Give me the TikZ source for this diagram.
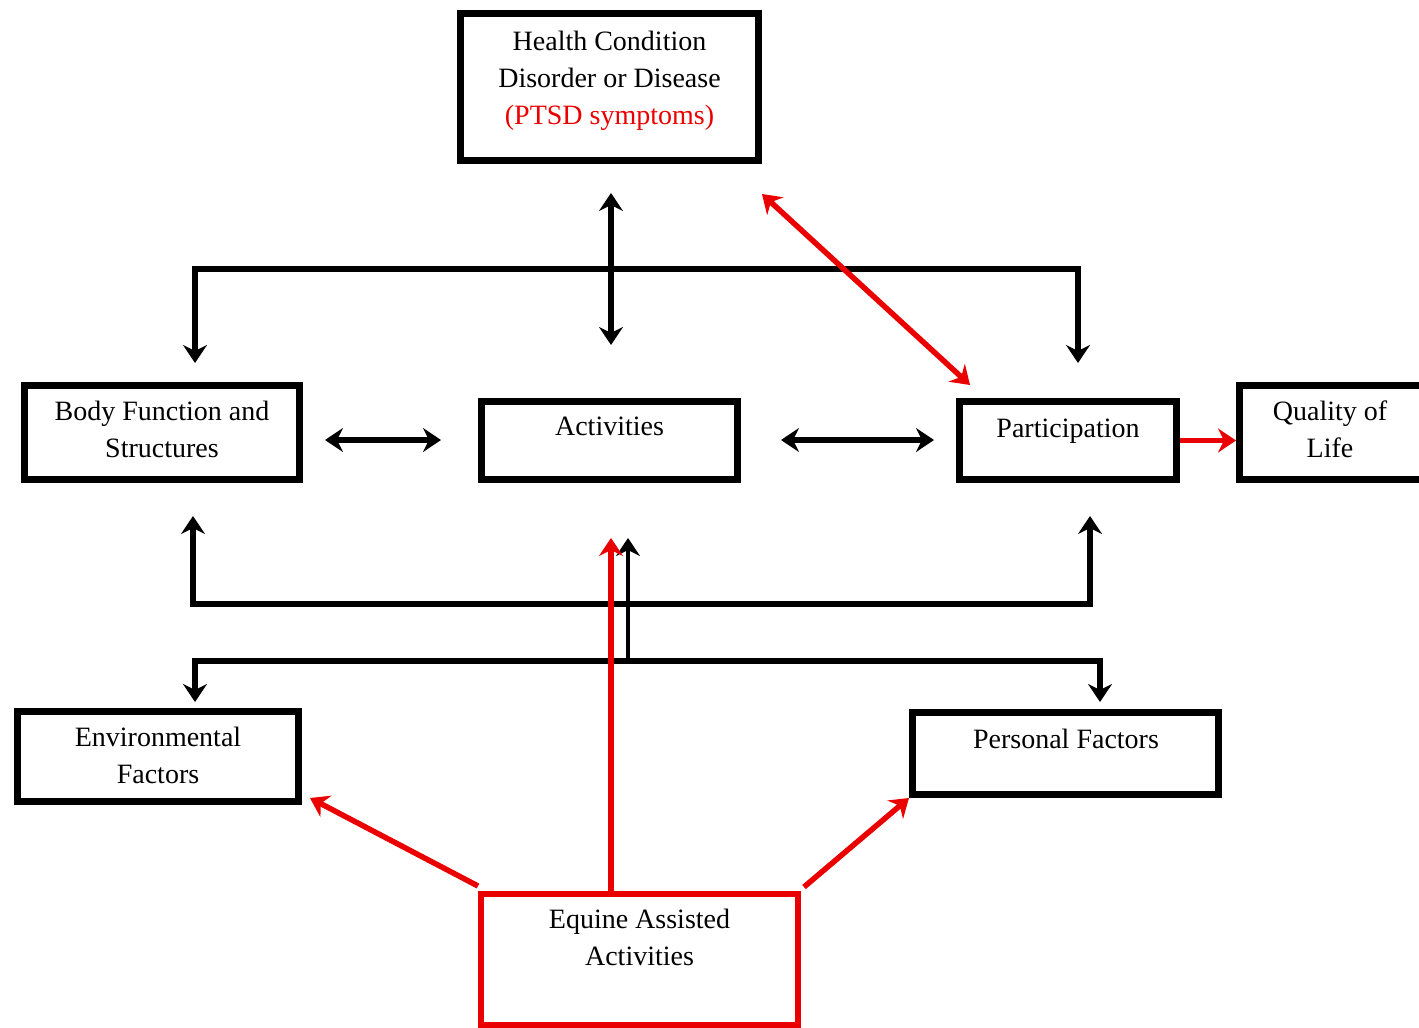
\documentclass[tikz,border=0pt]{standalone}
\usepackage{fontspec}
\setmainfont{Liberation Serif}
\usetikzlibrary{arrows.meta}
\definecolor{ared}{RGB}{235,0,0}
\tikzset{
  box/.style={draw=black, line width=7pt, fill=white, inner sep=0pt},
  rbox/.style={draw=ared, line width=6pt, fill=white, inner sep=0pt},
  txt/.style={align=center, anchor=north, inner sep=0pt, font=\fontsize{28}{37}\selectfont},
  tip/.tip={Stealth[length=18pt,width=24pt,inset=6pt]},
  blk/.style={draw=black, line width=6pt, line join=miter},
  red/.style={draw=ared, line width=5.5pt, line join=miter},
}
\begin{document}
\begin{tikzpicture}[x=1pt,y=-1pt]
\useasboundingbox (0,0) rectangle (1419,1028);
\fill[white] (0,0) rectangle (1419,1028);
% boxes
\node[box, minimum width=298pt, minimum height=147pt] (hc) at (609.5,87) {};
\node[box, minimum width=275pt, minimum height=94pt] (bf) at (162,432.5) {};
\node[box, minimum width=256pt, minimum height=78pt] (ac) at (609.5,440.5) {};
\node[box, minimum width=217pt, minimum height=78pt] (pa) at (1068,440.5) {};
\node[box, minimum width=200pt, minimum height=94pt] (ql) at (1339.5,432.5) {};
\node[box, minimum width=281pt, minimum height=90pt] (ef) at (158,756.5) {};
\node[box, minimum width=306pt, minimum height=82pt] (pf) at (1065.5,753.5) {};
\node[rbox, minimum width=317pt, minimum height=131pt] (ea) at (639.5,959.5) {};
% texts
\node[txt] (hct) at (609.5,31) {Health Condition\\Disorder or Disease\\\textcolor{ared}{(PTSD symptoms)}};
\node[txt] (bft) at (162,401) {Body Function and\\Structures};
\node[txt] (act) at (609.5,417) {Activities};
\node[txt] (pat) at (1068,419) {Participation};
\node[txt] (qlt) at (1330,401) {Quality of\\Life};
\node[txt] (eft) at (158,727) {Environmental\\Factors};
\node[txt] (pft) at (1066,729) {Personal Factors};
\node[txt] (eat) at (639.5,909) {Equine Assisted\\Activities};
% coordinates
\coordinate (va) at (611,193);
\coordinate (vb) at (611,345);
\coordinate (ta) at (195,363);
\coordinate (t1) at (195,269);
\coordinate (t2) at (1078,269);
\coordinate (tb) at (1078,363);
\coordinate (ba) at (193,516);
\coordinate (b1) at (193,604);
\coordinate (b2) at (1090,604);
\coordinate (bb) at (1090,516);
\coordinate (ma) at (628,661);
\coordinate (mb) at (628,538);
\coordinate (la) at (195,702);
\coordinate (l1) at (195,661);
\coordinate (l2) at (1100,661);
\coordinate (lb) at (1100,702);
\coordinate (h1a) at (325,440);
\coordinate (h1b) at (441,440);
\coordinate (h2a) at (781,440);
\coordinate (h2b) at (934,440);
\coordinate (ra) at (762,194);
\coordinate (rb) at (970,385);
\coordinate (rv) at (611,538);
% black connectors
\draw[blk, tip-tip] (va) -- (vb);
\draw[blk, tip-tip] (ta) -- (t1) -- (t2) -- (tb);
\draw[blk, tip-tip] (ba) -- (b1) -- (b2) -- (bb);
\draw[blk, line width=4pt, -tip] (ma) -- (mb);
\draw[blk, tip-tip] (la) -- (l1) -- (l2) -- (lb);
\draw[blk, tip-tip] (h1a) -- (h1b);
\draw[blk, tip-tip] (h2a) -- (h2b);
% red connectors
\draw[red, tip-tip] (ra) -- (rb);
\draw[red, -tip] (pa.east) -- (pa.east -| ql.west);
\draw[red, -tip] (ea.north -| rv) -- (rv);
\draw[red, -tip] (ea.north west) ++(0,-5) -- (310,798);
\draw[red, -tip] (ea.north east) ++(3,-4) -- (pf.south west);
\end{tikzpicture}
\end{document}
